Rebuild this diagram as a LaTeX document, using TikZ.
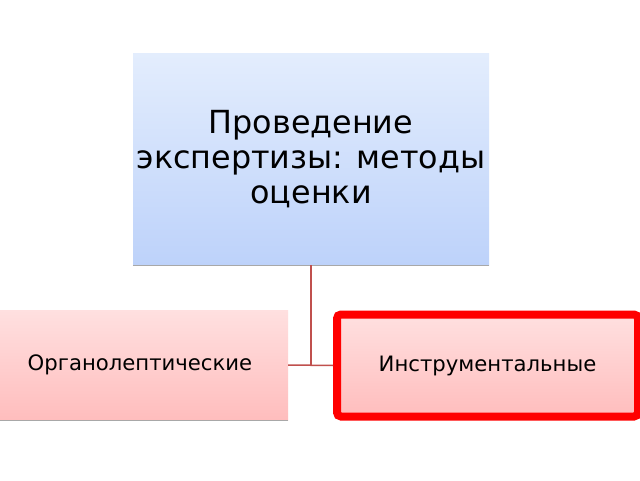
\documentclass[tikz,border=0pt]{standalone}
\usepackage{fontspec}
\setmainfont{DejaVu Sans}
\begin{document}
\begin{tikzpicture}[x=1pt,y=1pt,
  topbox/.style={draw=none,top color=topA,bottom color=topB,minimum width=356pt,minimum height=211pt,inner sep=0pt,align=center,font=\fontsize{31.8}{35}\selectfont},
  pinkbox/.style={top color=pinkA,bottom color=pinkB,inner sep=0pt,font=\fontsize{21.2}{25}\selectfont},
  conn/.style={draw=connred,line width=1.5pt}]
\definecolor{topA}{HTML}{E3EDFD}
\definecolor{topB}{HTML}{BDD2FA}
\definecolor{pinkA}{HTML}{FFE0E0}
\definecolor{pinkB}{HTML}{FFBDBD}
\definecolor{connred}{HTML}{C0504D}
\definecolor{shadowgray}{HTML}{A8A8A8}
\useasboundingbox (0,0) rectangle (640,480);
\fill[white] (0,0) rectangle (640,480);
% top box
\node[topbox] (top) at (311,320.5) {Проведение\\экспертизы: методы\\оценки};
\draw[shadowgray,line width=1pt] (top.south west) -- (top.south east);
% left box
\node[pinkbox,draw=none,minimum width=288pt,minimum height=110pt] (left) at (144,115) {\hspace*{-8pt}Органолептические};
\draw[shadowgray,line width=1pt] (left.south west) -- (left.south east);
% right box
\node[pinkbox,draw=red,line width=8pt,rounded corners=4pt,minimum width=301pt,minimum height=102pt] (right) at (487.5,114.5) {Инструментальные};
% connectors
\coordinate (j) at (311,115);
\draw[conn] (top.south) -- (j);
\draw[conn] (left.east) -- (right.west);
\end{tikzpicture}
\end{document}
